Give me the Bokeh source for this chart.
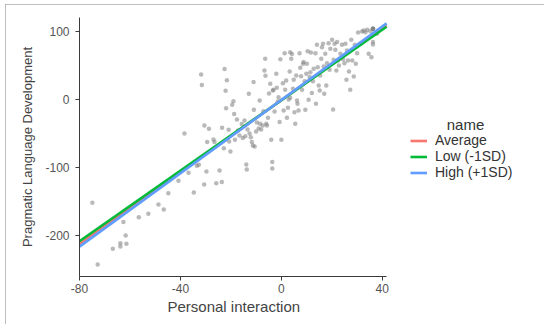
from bokeh.plotting import figure
from bokeh.models import Range1d, FixedTicker, Legend, LegendItem, Label, Title
from bokeh.embed import file_html
from bokeh.resources import INLINE

# Scatter data (Personal interaction vs Pragmatic Language Development)
pts_x = [-74.9, -72.8, -66.8, -63.8, -63.8, -61.4, -62.6, -61.7, -56.5, -52.7,
         -48.7, -46.6, -44.8, -40.8, -38.4, -36.8, -34.7, -33.5, -32.7, -31.8,
         -31.5, -30.6, -30.5, -29.7, -29.4, -28.7, -26.9, -26.5, -25.8, -24.5,
         -23.6, -23.5, -22.8, -22.5, -22.1, -21.9, -21.6, -20.9, -20.7, -20.2,
         -19.5, -19.0, -18.7, -18.4, -17.6, -17.2, -16.6, -15.7, -15.3, -14.6,
         -14.3, -13.9, -13.7, -13.4, -12.9, -12.6, -12.1, -11.7, -11.3, -11.0,
         -10.9, -10.6, -10.0, -9.7, -9.0, -8.6, -8.4, -8.0, -7.4, -7.1,
         -6.7, -6.4, -6.3, -6.0, -5.7, -5.3, -4.9, -4.4, -4.0, -3.6,
         -3.6, -3.4, -3.1, -2.7, -2.0, -1.8, -1.4, -1.1, -0.7, -0.4,
         0.0, 0.6, 0.9, 1.3, 1.5, 1.9, 2.2, 2.6, 2.9, 3.3,
         3.5, 3.5, 3.9, 4.2, 4.6, 4.9, 5.2, 5.5, 5.9, 6.2,
         6.4, 6.8, 7.2, 7.5, 7.8, 8.2, 8.6, 8.8, 9.2, 9.5,
         9.9, 10.1, 10.4, 10.8, 11.2, 11.5, 11.7, 12.1, 12.5, 12.8,
         13.5, 13.7, 14.1, 14.4, 14.8, 15.2, 15.4, 15.8, 16.1, 16.5,
         16.8, 17.0, 17.4, 17.8, 18.1, 18.7, 19.1, 19.4, 20.1, 20.5,
         20.7, 21.1, 21.4, 21.8, 22.1, 22.4, 22.8, 23.4, 24.0, 24.4,
         25.0, 25.4, 25.8, 26.0, 26.4, 26.8, 27.3, 27.7, 28.1, 28.7,
         29.1, 29.5, 30.0, 30.4, 31.3, 32.0, 32.6, 33.3, 34.0, 34.6,
         35.3, 35.7, 36.3, 36.3, 36.3, 37.9, 36.3, 36.3, 36.3]
pts_y = [-152.4, -243.4, -220.3, -211.9, -216.8, -212.9, -180.9, -200.6, -173.6, -168.6,
         -154.9, -162.2, -138.2, -120.0, -50.2, -108.2, -137.2, -97.8, -96.4, 36.9,
         21.2, -125.4, -38.4, -106.2, -62.9, -43.3, -59.0, -62.9, -123.4, -104.7,
         -121.9, -41.8, -71.8, 44.8, 12.8, -12.8, 28.5, -44.7, -61.9, -76.7,
         -7.9, -2.5, -21.6, -59.5, -29.5, -45.7, -53.1, -36.3, -57.0, -31.0,
         -54.1, -95.9, -103.2, -44.2, 8.4, -50.2, -55.6, -62.9, -67.9, 25.6,
         -15.2, -69.3, -47.2, -33.9, -42.8, -1.5, -35.9, -44.2, -38.4, -17.2,
         42.8, 60.0, 34.9, -35.9, -38.4, -27.0, 8.9, 23.1, -59.5, -92.4,
         -101.8, 13.3, 14.3, -17.7, 37.9, 17.2, -2.9, 3.4, -33.4, 59.5,
         -59.5, 24.1, -16.2, 68.3, 14.3, 28.0, -27.0, -12.3, 0.0, 41.3,
         69.8, 2.5, 60.0, 66.9, 15.8, 29.0, -18.7, -35.9, 35.4, -1.5,
         -6.4, -16.2, 68.3, 46.7, 34.4, 14.3, 52.6, 55.1, 27.0, -15.2,
         37.9, 52.6, 71.3, -0.5, 33.0, 40.3, 69.3, 9.4, 27.0, 45.2,
         68.3, -6.4, 80.6, 47.7, 20.6, 13.3, 35.4, 60.0, 77.2, 82.1,
         48.7, 8.4, 67.4, 20.6, 53.6, 83.1, 43.8, 74.7, 88.0, -14.7,
         58.5, 82.1, 73.3, 42.8, 84.6, 57.5, 50.2, 67.4, 80.6, 59.5,
         53.6, 82.1, 29.0, 72.3, 57.5, 41.3, 14.3, 88.0, 57.5, 33.9,
         80.6, 52.6, 68.3, 98.8, 82.1, 100.3, 101.8, 99.3, 102.8, 67.4,
         100.8, 62.4, 104.2, 84.6, 81.1, 96.8, 104.2, 104.2, 104.2]

# Simple-slope lines
line_names = ["Average", "Low (-1SD)", "High (+1SD)"]
line_colors = ["#F8766D", "#00BA38", "#619CFF"]
line_intercepts = [-0.9, -1.1, -0.6]
line_slopes = [2.652, 2.598, 2.705]
line_x = [-80, 41.7]

x_ticks = [-80, -40, 0, 40]
y_ticks = [-200, -100, 0, 100]

FONT = "Liberation Sans"

p = figure(width=539, height=320, output_backend="svg", toolbar_location=None,
           x_range=Range1d(-80, 102.3), y_range=Range1d(-261.1, 120.9),
           min_border_left=74, min_border_right=5, min_border_top=13,
           min_border_bottom=48)
p.outline_line_color = None
p.xgrid.visible = False
p.ygrid.visible = False
p.background_fill_color = "white"
p.border_fill_color = "white"
p.styles = {"margin-left": "5px", "margin-top": "4px",
            "outline": "1px solid #a8a8a8", "outline-offset": "-1px"}

p.scatter(pts_x, pts_y, size=4.5, fill_color="#808080", fill_alpha=0.55,
          line_color=None)

items = []
for name, col, a, b in zip(line_names, line_colors, line_intercepts, line_slopes):
    ys = [a + b * x for x in line_x]
    r = p.line(line_x, ys, line_color=col, line_width=2.6)
    items.append(LegendItem(label=name, renderers=[r]))

for ax in (p.xaxis[0], p.yaxis[0]):
    ax.axis_line_color = "#3a3a3a"
    ax.axis_line_width = 1
    ax.major_tick_line_color = "#3a3a3a"
    ax.major_tick_out = 4
    ax.major_tick_in = 0
    ax.minor_tick_line_color = None
    ax.major_label_text_font = FONT
    ax.major_label_text_color = "#555555"
    ax.major_label_text_font_size = "12px"
    ax.axis_label_text_font = FONT
    ax.axis_label_text_font_style = "normal"
    ax.axis_label_text_color = "#444444"

p.xaxis.ticker = FixedTicker(ticks=x_ticks)
p.yaxis.ticker = FixedTicker(ticks=y_ticks)
p.xaxis.major_label_overrides = {t: str(t) for t in x_ticks}
p.yaxis.major_label_overrides = {t: str(t) for t in y_ticks}
p.xaxis.bounds = (-80, 41.7)
p.yaxis.axis_label = "Pragmatic Language Development"
p.yaxis.axis_label_text_font_size = "13px"
p.xaxis.major_label_standoff = 3
p.yaxis.major_label_standoff = 6
p.yaxis.axis_label_standoff = 7

# x-axis title, centred under the x axis (not under the wider frame)
p.add_layout(Title(text="Personal interaction", align="left", offset=88,
                   standoff=0, text_font=FONT, text_font_size="15px",
                   text_font_style="normal", text_color="#444444"), "below")

legend = Legend(items=items, location=(331, 96), orientation="vertical",
                glyph_width=17, glyph_height=13, label_height=13,
                label_standoff=8, spacing=0, padding=0, margin=0,
                border_line_color=None, background_fill_alpha=0,
                label_text_font=FONT, label_text_font_size="14px",
                label_text_color="#333333")
p.add_layout(legend)

p.add_layout(Label(x=386, y=152, x_units="screen", y_units="screen", text="name",
                   text_align="center", text_baseline="middle", text_font=FONT,
                   text_font_size="15px", text_color="#333333"))

open("out.html", "w").write(file_html(p, INLINE))
